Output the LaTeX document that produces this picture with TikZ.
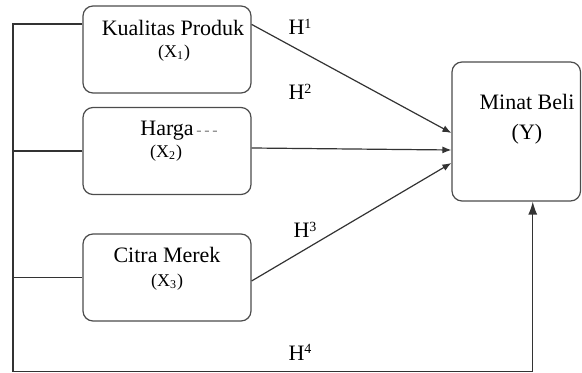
\documentclass[tikz,border=0pt]{standalone}
\usepackage{fontspec}
\setmainfont{Liberation Serif}
\usepackage{tikz}
\usepackage{xcolor}
\usetikzlibrary{calc}
\usetikzlibrary{positioning}
\usetikzlibrary{shapes,arrows.meta}

\begin{document}
\begin{tikzpicture} [>={Latex[length=4.5pt,width=3.5pt]}, x=0.5pt, y=-0.5pt]
            % Set primary nodes
            \tikzset{
                varNode/.style={
                        draw=black!70,
                        line width=0.6pt,
                        rectangle,
                        rounded corners=5pt,
                        minimum height=43.5pt,
                        minimum width=84pt
                    }
            }
            \tikzset{
                minatNode/.style={
                        draw=black!70,
                        line width=0.6pt,
                        rectangle,
                        rounded corners=5pt,
                        minimum height=69.5pt,
                        minimum width=64.25pt
                    }
            }
            \tikzset{
                nameText/.style={
                        anchor=base,
                        inner sep=0pt,
                        font=\fontsize{11}{13}\selectfont
                    }
            }
            \tikzset{
                symText/.style={
                        anchor=base,
                        inner sep=0pt,
                        font=\fontsize{9}{11}\selectfont
                    }
            }
            \tikzset{
                hypText/.style={
                        anchor=base,
                        inner sep=0pt,
                        font=\fontsize{11}{13}\selectfont
                    }
            }
            \tikzset{
                line/.style={
                        draw=black!80,
                        line width=0.6pt
                    }
            }
            \useasboundingbox (0,0) rectangle (582,373);
            % Placing nodes
            \node[varNode](kualitas) at (167,49.5){};
            \node[varNode](harga) at (167,151){};
            \node[varNode](citra) at (167,277.5){};
            \node[minatNode](minat) at (516.25,131.5){};
            \node[nameText](kualitasName) at (173,36){Kualitas Produk};
            \node[symText](kualitasSym) at (174,58){(X\textsubscript{1})};
            \node[nameText, anchor=base west](hargaName) at (140,136){Harga\textcolor{gray}{\fontsize{8}{9}\selectfont\,-\,-\,-}};
            \node[symText](hargaSym) at (166,158){(X\textsubscript{2})};
            \node[nameText](citraName) at (167,263){Citra Merek};
            \node[symText](citraSym) at (167,286){(X\textsubscript{3})};
            \node[nameText](minatName) at (527,110){Minat Beli};
            \node[nameText](minatSym) at (527,140){(Y)};
            \node[hypText](h1) at (300,35){H{\fontsize{7}{8}\selectfont\raisebox{3.2pt}{1}}};
            \node[hypText](h2) at (300,100){H{\fontsize{7}{8}\selectfont\raisebox{3.2pt}{2}}};
            \node[hypText](h3) at (305,238){H{\fontsize{7}{8}\selectfont\raisebox{3.2pt}{3}}};
            \node[hypText](h4) at (300,360){H{\fontsize{7}{8}\selectfont\raisebox{3.2pt}{4}}};
            \coordinate (busTop) at (13,24);
            \coordinate (busEnd) at (13,371.5);
            % Draw arrows
            \draw[line](kualitas.west |- busTop) -- (busTop) -- (busEnd);
            \draw[line](harga.west) -- (harga.west -| busTop);
            \draw[line](citra.west) -- (citra.west -| busTop);
            \draw[line, -{Latex[length=6.5pt,width=4.5pt]}](busEnd) -| ([xshift=8.25pt]minat.south);
            \draw[line, ->]([yshift=-9.5pt]kualitas.north east) -- ([yshift=-0.75pt]minat.west);
            \draw[line, ->]([yshift=1.5pt]harga.east) -- ([yshift=-9.25pt]minat.west);
            \draw[line, ->]([yshift=-1.75pt]citra.east) -- ([yshift=-15.75pt]minat.west);
        \end{tikzpicture}
\end{document}
